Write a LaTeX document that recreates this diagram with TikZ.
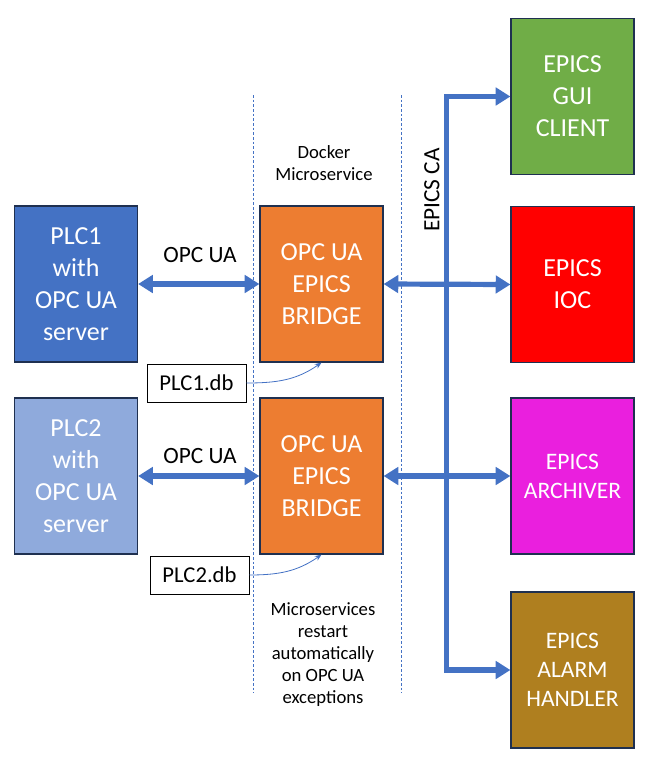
\documentclass[tikz,border=0pt]{standalone}
\usepackage{fontspec}
\setmainfont{Carlito}
\usetikzlibrary{arrows.meta}
\definecolor{arrblue}{HTML}{4472C4}
\definecolor{plcone}{HTML}{4472C4}
\definecolor{plctwo}{HTML}{8FAADC}
\definecolor{bridgeor}{HTML}{ED7D31}
\definecolor{guigreen}{HTML}{70AD47}
\definecolor{iocred}{HTML}{FF0000}
\definecolor{archmag}{HTML}{EA1FDE}
\definecolor{alarmbr}{HTML}{AF7F1F}
\definecolor{bordernavy}{HTML}{1F3050}
\tikzset{
  blockbox/.style={draw=bordernavy, line width=0.9pt, minimum width=92.25pt, minimum height=117pt,
    text=white, align=center, inner sep=0pt, font=\fontsize{19.5}{24}\selectfont},
  smallblock/.style={blockbox, font=\fontsize{17.7}{21.75}\selectfont},
  bigarrow/.style={draw=arrblue, line width=3.9pt, {Triangle[length=11pt,width=13pt]}-{Triangle[length=11pt,width=13pt]}},
  thinarrow/.style={draw=arrblue, line width=0.6pt, -{Stealth[length=5pt,width=4pt]}},
  dbbox/.style={draw=black, line width=0.75pt, fill=white, minimum width=74.25pt, minimum height=28.5pt,
    inner sep=0pt, font=\fontsize{17}{20}\selectfont},
  divline/.style={draw=arrblue, line width=0.75pt, dash pattern=on 2pt off 1.5pt},
  lbl/.style={font=\fontsize{17.5}{21}\selectfont, inner sep=0pt},
  smalltxt/.style={font=\fontsize{14}{16.5}\selectfont, align=center, inner sep=0pt}
}
\begin{document}
\begin{tikzpicture}[x=0.75pt,y=-0.75pt]
\useasboundingbox (0,0) rectangle (650,765);
% divider lines
\coordinate (d1t) at (253,95); \coordinate (d1b) at (253,693);
\coordinate (d2t) at (401,95); \coordinate (d2b) at (401,693);
\draw[divline] (d1t) -- (d1b);
\draw[divline] (d2t) -- (d2b);
% blocks
\node[blockbox, fill=plcone] (plc1) at (76,284) {PLC1\\with\\OPC UA\\server};
\node[blockbox, fill=plctwo] (plc2) at (76,476) {PLC2\\with\\OPC UA\\server};
\node[blockbox, fill=bridgeor] (br1) at (321.5,284) {OPC UA\\EPICS\\BRIDGE};
\node[blockbox, fill=bridgeor] (br2) at (321.5,476) {OPC UA\\EPICS\\BRIDGE};
\node[blockbox, fill=guigreen] (gui) at (572.5,96.5) {EPICS\\GUI\\CLIENT};
\node[blockbox, fill=iocred] (ioc) at (572.5,284.5) {EPICS\\IOC};
\node[smallblock, fill=archmag] (arch) at (572.5,476) {EPICS\\ARCHIVER};
\node[smallblock, fill=alarmbr] (alarm) at (572.5,670) {EPICS\\ALARM\\HANDLER};
% db boxes
\node[dbbox] (db1) at (196.5,383) {PLC1.db};
\node[dbbox] (db2) at (199.5,575) {PLC2.db};
% arrows
\draw[bigarrow] (plc1.east) -- (br1.west);
\draw[bigarrow] (plc2.east) -- (br2.west);
\draw[bigarrow, line join=miter] (gui.west) -- ++(-64,0) |- (alarm.west);
\draw[bigarrow] (br1.east) -- (ioc.west);
\draw[bigarrow] (br2.east) -- (arch.west);
\draw[thinarrow] (db1.east) to[out=0,in=215] (br1.south);
\draw[thinarrow] (db2.east) to[out=0,in=215] (br2.south);
% labels
\node[lbl] (opc1) at (200,255) {OPC UA};
\node[lbl] (opc2) at (200,456) {OPC UA};
\node[lbl, rotate=90] (ca) at (432,190) {EPICS CA};
\node[smalltxt] (docker) at (324,163.5) {Docker\\Microservice};
\node[smalltxt] (ms) at (323,654.5) {Microservices\\restart\\automatically\\on OPC UA\\exceptions};
\end{tikzpicture}
\end{document}
